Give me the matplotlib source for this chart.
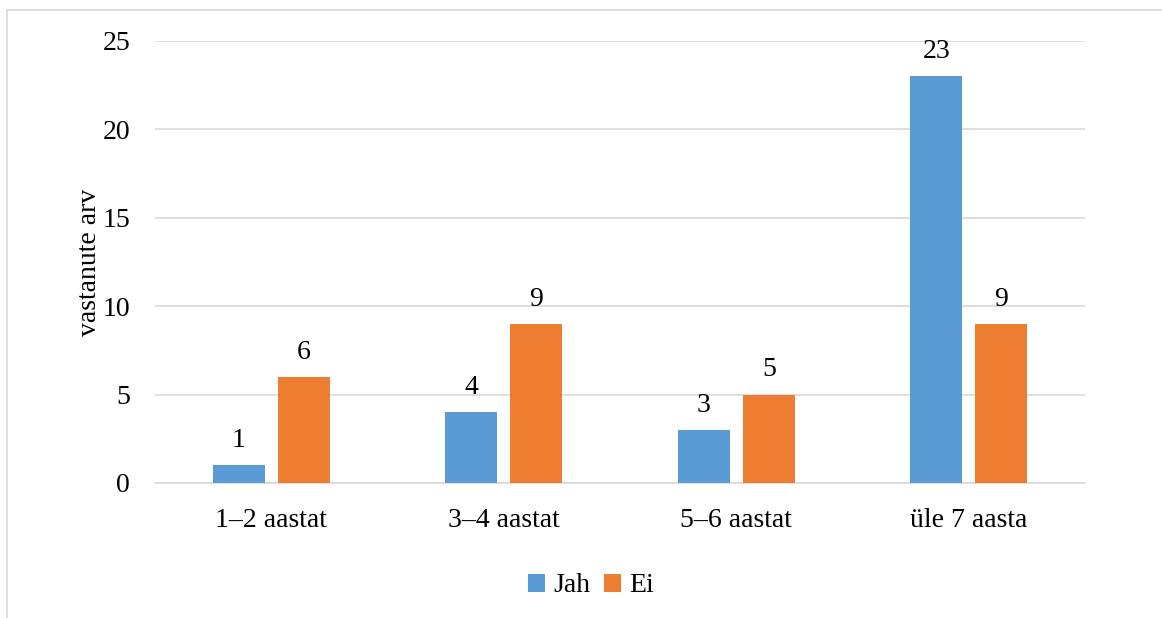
import matplotlib
matplotlib.use("Agg")
import matplotlib.pyplot as plt
import numpy as np
from matplotlib.patches import Rectangle

categories = ["1–2 aastat", "3–4 aastat", "5–6 aastat", "üle 7 aasta"]
jah = [1, 4, 3, 23]
ei = [6, 9, 5, 9]
series_names = ["Jah", "Ei"]
y_ticks = [0, 5, 10, 15, 20, 25]
y_label = "vastanute arv"

blue = "#5B9BD5"
orange = "#ED7D31"
grid_color = "#D9D9D9"
fs = 20

plt.rcParams["font.family"] = ["Liberation Serif", "DejaVu Serif"]

fig = plt.figure(figsize=(11.62, 6.18), dpi=100)
ax = fig.add_axes([155 / 1162, 1 - 483 / 618, 930 / 1162, (483 - 41) / 618])

# chart frame
fig.patches.append(Rectangle((7 / 1162, -0.1), 1.2, 1 - 10 / 618 + 0.1,
                             transform=fig.transFigure, fill=False,
                             edgecolor=grid_color, linewidth=1.2))

x = np.arange(len(categories))
w = 0.225
off = 0.14
b1 = ax.bar(x - off, jah, w, color=blue, label=series_names[0], zorder=3)
b2 = ax.bar(x + off, ei, w, color=orange, label=series_names[1], zorder=3)

for bars, vals in ((b1, jah), (b2, ei)):
    for r, v in zip(bars, vals):
        ax.text(r.get_x() + r.get_width() / 2, v + 0.7, str(v),
                ha="center", va="bottom", fontsize=fs)

ax.set_xlim(-0.5, len(categories) - 0.5)
ax.set_ylim(0, 25)
ax.set_yticks(y_ticks)
ax.set_xticks(x)
ax.set_xticklabels(categories, fontsize=fs)
ax.tick_params(axis="y", labelsize=fs, length=0, pad=18)
ax.tick_params(axis="x", length=0, pad=18)
ax.yaxis.grid(True, color=grid_color, linewidth=1.2, zorder=0)
for s in ("top", "right", "left"):
    ax.spines[s].set_visible(False)
ax.spines["bottom"].set_color(grid_color)
ax.spines["bottom"].set_linewidth(1.2)
ax.set_ylabel(y_label, fontsize=fs, labelpad=0)

ax.legend(loc="center", bbox_to_anchor=(591 / 1162, 1 - 586 / 618),
          bbox_transform=fig.transFigure, ncol=2, frameon=False,
          fontsize=fs, handlelength=0.6, handleheight=0.6,
          handletextpad=0.3, columnspacing=0.5)

fig.savefig("out.png", dpi=100)
